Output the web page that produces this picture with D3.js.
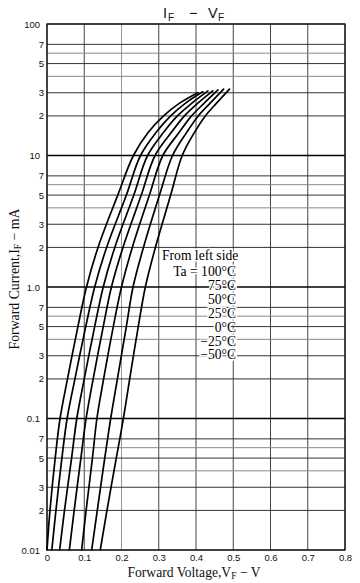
<!DOCTYPE html>
<html><head><meta charset="utf-8">
<script src="https://cdn.jsdelivr.net/npm/d3@7"></script>
<style>body{margin:0;background:#fff} svg{display:block}</style>
</head><body>
<script>
// ---- data ----
const currents = [0.01, 0.02, 0.05, 0.1, 0.2, 0.5, 1, 2, 5, 10, 15, 20, 25]; // mA
const topCurrents = [30, 30.5, 31, 31, 31.5, 32, 32];                          // mA, last point of each curve
const seriesNames = ["100°C", "75°C", "50°C", "25°C", "0°C", "−25°C", "−50°C"];
const vf100 = [0.000, 0.008, 0.022, 0.035, 0.055, 0.083, 0.106, 0.137, 0.190, 0.232, 0.272, 0.313, 0.356, 0.405];
const vf75  = [0.013, 0.024, 0.040, 0.054, 0.075, 0.104, 0.128, 0.160, 0.213, 0.251, 0.293, 0.332, 0.372, 0.418];
const vf50  = [0.034, 0.047, 0.066, 0.080, 0.100, 0.128, 0.151, 0.182, 0.233, 0.270, 0.313, 0.350, 0.389, 0.432];
const vf25  = [0.060, 0.073, 0.091, 0.105, 0.124, 0.151, 0.173, 0.204, 0.253, 0.290, 0.334, 0.369, 0.405, 0.445];
const vf0   = [0.093, 0.105, 0.122, 0.134, 0.152, 0.178, 0.200, 0.229, 0.275, 0.311, 0.355, 0.388, 0.422, 0.459];
const vfm25 = [0.120, 0.135, 0.155, 0.171, 0.189, 0.213, 0.231, 0.259, 0.302, 0.337, 0.375, 0.406, 0.438, 0.474];
const vfm50 = [0.143, 0.161, 0.186, 0.205, 0.222, 0.245, 0.264, 0.291, 0.332, 0.363, 0.396, 0.425, 0.455, 0.490];
const seriesValues = [vf100, vf75, vf50, vf25, vf0, vfm25, vfm50];

const xTicks = [0, 0.1, 0.2, 0.3, 0.4, 0.5, 0.6, 0.7, 0.8];
const xTickLabels = ["0", "0.1", "0.2", "0.3", "0.4", "0.5", "0.6", "0.7", "0.8"];
const yTickValues = [100, 70, 50, 30, 20, 10, 7, 5, 3, 2, 1, 0.7, 0.5, 0.3, 0.2, 0.1, 0.07, 0.05, 0.03, 0.02, 0.01];
const yTickLabels = ["100", "7", "5", "3", "2", "10", "7", "5", "3", "2", "1.0", "7", "5", "3", "2", "0.1", "7", "5", "3", "2", "0.01"];
const yMinorGrid = [60, 40, 6, 4, 0.6, 0.4, 0.06, 0.04];
const legendLines = ["Ta = 100°C", "75°C", "50°C", "25°C", "0°C", "−25°C", "−50°C"];

// ---- layout ----
const W = 360, H = 583;
const svg = d3.select("body").append("svg").attr("width", W).attr("height", H);
const x = d3.scaleLinear().domain([0, 0.8]).range([47, 345]);
const y = d3.scaleLog().domain([0.01, 100]).range([550, 24]);

const g = svg.append("g");

// vertical grid
g.append("g").selectAll("line").data(xTicks).join("line")
  .attr("x1", d => x(d)).attr("x2", d => x(d))
  .attr("y1", y(100)).attr("y2", y(0.01))
  .attr("stroke", (d, i) => (i === 2 ? "#999" : "#444"))
  .attr("stroke-width", 1);

// minor horizontal grid
g.append("g").selectAll("line").data(yMinorGrid).join("line")
  .attr("x1", x(0)).attr("x2", x(0.8))
  .attr("y1", d => y(d)).attr("y2", d => y(d))
  .attr("stroke", "#888").attr("stroke-width", 1);

// labelled horizontal grid
g.append("g").selectAll("line").data(yTickValues).join("line")
  .attr("x1", x(0)).attr("x2", x(0.8))
  .attr("y1", d => y(d)).attr("y2", d => y(d))
  .attr("stroke", d => ([10, 1, 0.1].includes(d) ? "#000" : "#333"))
  .attr("stroke-width", d => ([10, 1, 0.1].includes(d) ? 1.4 : 1));

// frame
g.append("rect").attr("x", x(0)).attr("y", y(100))
  .attr("width", x(0.8) - x(0)).attr("height", y(0.01) - y(100))
  .attr("fill", "none").attr("stroke", "#111").attr("stroke-width", 1.3);

// axes (labels only)
const yAxis = d3.axisLeft(y).tickValues(yTickValues)
  .tickFormat((d, i) => yTickLabels[i]).tickSize(0).tickPadding(3);
const ya = svg.append("g").attr("transform", `translate(${x(0)},0)`).call(yAxis);
ya.select(".domain").remove();
ya.selectAll("text")
  .attr("font-family", "Liberation Sans, Arial, sans-serif").attr("font-size", 9.5).attr("fill", "#111")
  .attr("x", (d, i) => (yTickLabels[i].length > 1 ? -7 : -3));

const xAxis = d3.axisBottom(x).tickValues(xTicks)
  .tickFormat((d, i) => xTickLabels[i]).tickSize(0).tickPadding(4);
const xa = svg.append("g").attr("transform", `translate(0,${y(0.01)})`).call(xAxis);
xa.select(".domain").remove();
xa.selectAll("text")
  .attr("font-family", "Liberation Sans, Arial, sans-serif").attr("font-size", 9.5).attr("fill", "#111");

// curves
const line = d3.line().x(d => x(d.v)).y(d => y(d.i)).curve(d3.curveCatmullRom.alpha(0.5));
seriesValues.forEach((vals, k) => {
  const pts = vals.map((v, j) => ({ v, i: j < currents.length ? currents[j] : topCurrents[k] }));
  svg.append("path").datum(pts).attr("d", line)
    .attr("fill", "none").attr("stroke", "#000").attr("stroke-width", 1.7)
    .attr("stroke-linecap", "round");
});

// legend text
const serif = "Liberation Serif, Times New Roman, serif";
svg.append("text").attr("x", 162).attr("y", 260)
  .attr("font-family", serif).attr("font-size", 13.6).attr("fill", "#000")
  .attr("stroke", "#fff").attr("stroke-width", 3).attr("paint-order", "stroke")
  .text("From left side");
svg.append("g").selectAll("text").data(legendLines).join("text")
  .attr("x", 236).attr("y", (d, i) => 276 + i * 13.9)
  .attr("text-anchor", "end")
  .attr("font-family", serif).attr("font-size", 13.6).attr("fill", "#000")
  .attr("stroke", "#fff").attr("stroke-width", 3).attr("paint-order", "stroke")
  .text(d => d);

// title
const sans = "Liberation Sans, Arial, sans-serif";
const title = svg.append("g").attr("font-family", sans).attr("fill", "#111");
title.append("text").attr("x", 163).attr("y", 18).attr("font-size", 14.5).text("I");
title.append("text").attr("x", 168).attr("y", 21).attr("font-size", 10).text("F");
title.append("text").attr("x", 189).attr("y", 18).attr("font-size", 14.5).text("−");
title.append("text").attr("x", 208).attr("y", 18).attr("font-size", 14.5).text("V");
title.append("text").attr("x", 218).attr("y", 21).attr("font-size", 10).text("F");

// x axis label
const xl = svg.append("text").attr("x", 194).attr("y", 577).attr("text-anchor", "middle")
  .attr("font-family", serif).attr("font-size", 13.6).attr("fill", "#111");
xl.append("tspan").text("Forward Voltage,V");
xl.append("tspan").attr("font-size", 9.5).attr("dy", 2).text("F");
xl.append("tspan").attr("dy", -2).text(" − V");

// y axis label
const yl = svg.append("text").attr("transform", "translate(19,279) rotate(-90)").attr("text-anchor", "middle")
  .attr("font-family", serif).attr("font-size", 13.8).attr("fill", "#111");
yl.append("tspan").text("Forward Current,I");
yl.append("tspan").attr("font-size", 9.5).attr("dy", 2).text("F");
yl.append("tspan").attr("dy", -2).text(" − mA");
</script>
</body></html>
